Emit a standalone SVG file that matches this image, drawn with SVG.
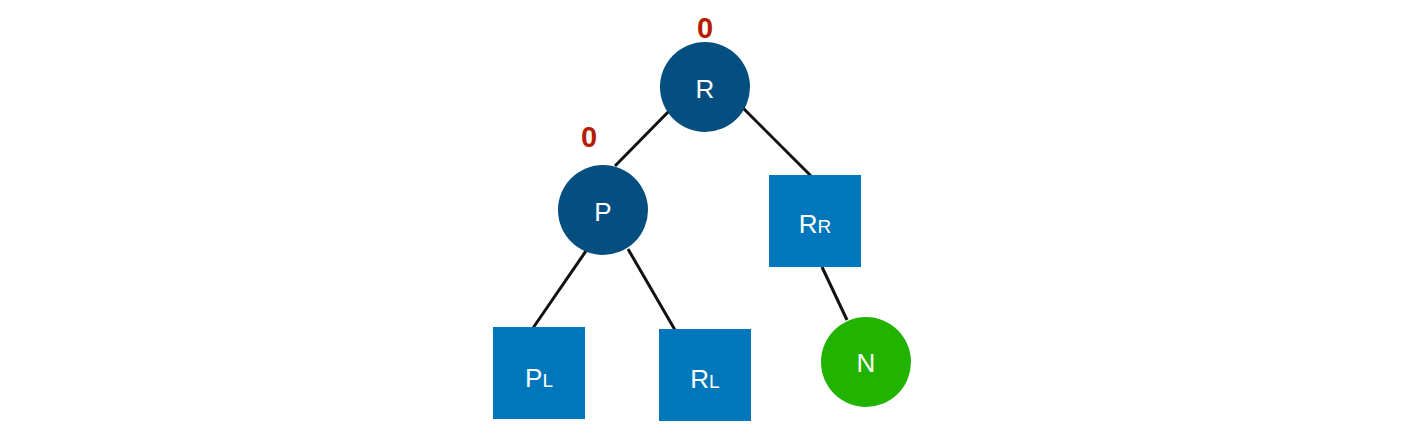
<svg xmlns="http://www.w3.org/2000/svg" width="1414" height="434" viewBox="0 0 1414 434">
<style>
.dark{fill:#044f80}
.sq{fill:#0077bb}
.grn{fill:#22b300}
.lbl{font-family:"Liberation Sans",Arial,sans-serif;font-size:26px;fill:#fff;text-anchor:middle}
.sub{font-size:19px}
.bf{font-family:"Liberation Sans",Arial,sans-serif;font-size:29px;font-weight:bold;fill:#b51c00;text-anchor:middle}
.edge{stroke:#111;stroke-width:3;fill:none}
</style>
<rect width="1414" height="434" fill="#fff"/>
<g id="edges">
<line class="edge" x1="673" y1="107" x2="615" y2="166"/>
<line class="edge" x1="742" y1="107" x2="811" y2="176"/>
<line class="edge" x1="588" y1="248" x2="533" y2="328"/>
<line class="edge" x1="628" y1="249" x2="675" y2="330"/>
<line class="edge" x1="822" y1="267" x2="847" y2="320"/>
</g>
<g id="R">
<circle class="dark" cx="705" cy="87" r="45"/>
<text class="lbl" x="705" y="98">R</text>
<text class="bf" x="705" y="38">0</text>
</g>
<g id="P">
<circle class="dark" cx="603" cy="210" r="45"/>
<text class="lbl" x="603" y="221">P</text>
<text class="bf" x="589" y="147">0</text>
</g>
<g id="RR">
<rect class="sq" x="769" y="175" width="92" height="92"/>
<text class="lbl" x="815" y="233">R<tspan class="sub">R</tspan></text>
</g>
<g id="PL">
<rect class="sq" x="493" y="327" width="92" height="92"/>
<text class="lbl" x="539" y="387">P<tspan class="sub">L</tspan></text>
</g>
<g id="RL">
<rect class="sq" x="659" y="329" width="92" height="92"/>
<text class="lbl" x="705" y="388">R<tspan class="sub">L</tspan></text>
</g>
<g id="N">
<circle class="grn" cx="866" cy="362" r="45"/>
<text class="lbl" x="866" y="372">N</text>
</g>
</svg>
